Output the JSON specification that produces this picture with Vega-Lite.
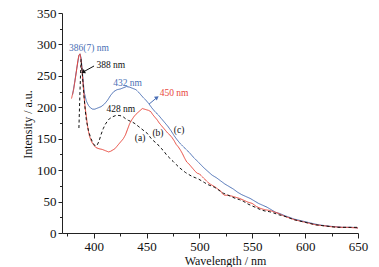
{
  "$schema": "https://vega.github.io/schema/vega-lite/v6.json",
  "width": 296,
  "height": 220,
  "autosize": "none",
  "padding": {"left": 62, "top": 13, "right": 21, "bottom": 34},
  "background": "white",
  "config": {
    "view": {"stroke": null},
    "font": "'Liberation Serif', 'Times New Roman', serif",
    "axis": {
      "grid": false,
      "domainColor": "#222",
      "tickColor": "#222",
      "labelColor": "#111",
      "titleColor": "#111",
      "labelFont": "'Liberation Serif', 'Times New Roman', serif",
      "titleFont": "'Liberation Serif', 'Times New Roman', serif",
      "labelFontSize": 13,
      "titleFontSize": 12,
      "titleFontWeight": "normal",
      "labelFlush": false,
      "labelOverlap": false,
      "domainWidth": 1,
      "tickWidth": 1
    }
  },
  "datasets": {
    "spectra": [
      {"wl":380,"v":220,"series":"c"},{"wl":382,"v":240,"series":"c"},{"wl":384,"v":262,"series":"c"},{"wl":386,"v":282,"series":"c"},{"wl":387,"v":285,"series":"c"},{"wl":388,"v":279,"series":"c"},{"wl":389,"v":262,"series":"c"},{"wl":390,"v":242,"series":"c"},{"wl":391,"v":224,"series":"c"},{"wl":393,"v":210,"series":"c"},{"wl":395,"v":203,"series":"c"},{"wl":397,"v":199,"series":"c"},{"wl":399,"v":197,"series":"c"},{"wl":401,"v":197,"series":"c"},{"wl":404,"v":199,"series":"c"},{"wl":407,"v":201,"series":"c"},{"wl":410,"v":205,"series":"c"},{"wl":413,"v":211,"series":"c"},{"wl":416,"v":219,"series":"c"},{"wl":419,"v":225,"series":"c"},{"wl":422,"v":228,"series":"c"},{"wl":425,"v":229,"series":"c"},{"wl":428,"v":231,"series":"c"},{"wl":431,"v":233,"series":"c"},{"wl":434,"v":232,"series":"c"},{"wl":437,"v":230,"series":"c"},{"wl":440,"v":228,"series":"c"},{"wl":443,"v":223,"series":"c"},{"wl":446,"v":217,"series":"c"},{"wl":449,"v":212,"series":"c"},{"wl":452,"v":206,"series":"c"},{"wl":455,"v":199,"series":"c"},{"wl":458,"v":193,"series":"c"},{"wl":461,"v":188,"series":"c"},{"wl":464,"v":182,"series":"c"},{"wl":467,"v":176,"series":"c"},{"wl":470,"v":170,"series":"c"},{"wl":473,"v":163,"series":"c"},{"wl":476,"v":155,"series":"c"},{"wl":479,"v":148,"series":"c"},{"wl":482,"v":142,"series":"c"},{"wl":485,"v":137,"series":"c"},{"wl":488,"v":132,"series":"c"},{"wl":491,"v":127,"series":"c"},{"wl":494,"v":121,"series":"c"},{"wl":497,"v":116,"series":"c"},{"wl":500,"v":111,"series":"c"},{"wl":504,"v":104,"series":"c"},{"wl":508,"v":98,"series":"c"},{"wl":512,"v":92,"series":"c"},{"wl":516,"v":88,"series":"c"},{"wl":520,"v":83,"series":"c"},{"wl":524,"v":78,"series":"c"},{"wl":528,"v":74,"series":"c"},{"wl":532,"v":70,"series":"c"},{"wl":536,"v":65,"series":"c"},{"wl":540,"v":61,"series":"c"},{"wl":544,"v":58,"series":"c"},{"wl":548,"v":55,"series":"c"},{"wl":552,"v":51,"series":"c"},{"wl":556,"v":47,"series":"c"},{"wl":560,"v":44,"series":"c"},{"wl":564,"v":41,"series":"c"},{"wl":568,"v":37,"series":"c"},{"wl":572,"v":33,"series":"c"},{"wl":576,"v":31,"series":"c"},{"wl":580,"v":28,"series":"c"},{"wl":585,"v":25,"series":"c"},{"wl":590,"v":22,"series":"c"},{"wl":595,"v":20,"series":"c"},{"wl":600,"v":18,"series":"c"},{"wl":605,"v":16,"series":"c"},{"wl":610,"v":14,"series":"c"},{"wl":615,"v":12.5,"series":"c"},{"wl":620,"v":11.5,"series":"c"},{"wl":625,"v":10.5,"series":"c"},{"wl":630,"v":10,"series":"c"},{"wl":635,"v":9,"series":"c"},{"wl":640,"v":9,"series":"c"},{"wl":645,"v":9,"series":"c"},{"wl":650,"v":8,"series":"c"},
      {"wl":379,"v":214,"series":"b"},{"wl":381,"v":228,"series":"b"},{"wl":383,"v":250,"series":"b"},{"wl":385,"v":274,"series":"b"},{"wl":386,"v":283,"series":"b"},{"wl":387,"v":285,"series":"b"},{"wl":388,"v":276,"series":"b"},{"wl":389,"v":258,"series":"b"},{"wl":390,"v":236,"series":"b"},{"wl":391,"v":215,"series":"b"},{"wl":392,"v":198,"series":"b"},{"wl":393,"v":186,"series":"b"},{"wl":394,"v":172,"series":"b"},{"wl":395,"v":162,"series":"b"},{"wl":396,"v":154,"series":"b"},{"wl":398,"v":145,"series":"b"},{"wl":400,"v":140,"series":"b"},{"wl":402,"v":136,"series":"b"},{"wl":405,"v":134,"series":"b"},{"wl":408,"v":133,"series":"b"},{"wl":411,"v":131,"series":"b"},{"wl":414,"v":129,"series":"b"},{"wl":416,"v":130,"series":"b"},{"wl":418,"v":132,"series":"b"},{"wl":420,"v":134,"series":"b"},{"wl":422,"v":138,"series":"b"},{"wl":424,"v":142,"series":"b"},{"wl":426,"v":146,"series":"b"},{"wl":428,"v":150,"series":"b"},{"wl":430,"v":156,"series":"b"},{"wl":432,"v":165,"series":"b"},{"wl":434,"v":174,"series":"b"},{"wl":436,"v":180,"series":"b"},{"wl":438,"v":185,"series":"b"},{"wl":440,"v":189,"series":"b"},{"wl":442,"v":192,"series":"b"},{"wl":444,"v":195,"series":"b"},{"wl":446,"v":198,"series":"b"},{"wl":448,"v":197,"series":"b"},{"wl":450,"v":196,"series":"b"},{"wl":452,"v":195,"series":"b"},{"wl":454,"v":193,"series":"b"},{"wl":456,"v":188,"series":"b"},{"wl":458,"v":184,"series":"b"},{"wl":460,"v":180,"series":"b"},{"wl":462,"v":175,"series":"b"},{"wl":464,"v":171,"series":"b"},{"wl":466,"v":167,"series":"b"},{"wl":468,"v":163,"series":"b"},{"wl":470,"v":159,"series":"b"},{"wl":472,"v":156,"series":"b"},{"wl":474,"v":152,"series":"b"},{"wl":476,"v":147,"series":"b"},{"wl":478,"v":141,"series":"b"},{"wl":480,"v":137,"series":"b"},{"wl":482,"v":132,"series":"b"},{"wl":484,"v":126,"series":"b"},{"wl":486,"v":119,"series":"b"},{"wl":488,"v":113,"series":"b"},{"wl":490,"v":110,"series":"b"},{"wl":492,"v":106,"series":"b"},{"wl":494,"v":102,"series":"b"},{"wl":496,"v":98,"series":"b"},{"wl":498,"v":95,"series":"b"},{"wl":500,"v":94,"series":"b"},{"wl":503,"v":89,"series":"b"},{"wl":506,"v":84,"series":"b"},{"wl":509,"v":79,"series":"b"},{"wl":512,"v":76,"series":"b"},{"wl":515,"v":73,"series":"b"},{"wl":518,"v":69,"series":"b"},{"wl":520,"v":67,"series":"b"},{"wl":522,"v":62,"series":"b"},{"wl":524,"v":60,"series":"b"},{"wl":527,"v":60,"series":"b"},{"wl":530,"v":59,"series":"b"},{"wl":534,"v":57,"series":"b"},{"wl":538,"v":55,"series":"b"},{"wl":542,"v":52,"series":"b"},{"wl":546,"v":49,"series":"b"},{"wl":550,"v":47,"series":"b"},{"wl":554,"v":42,"series":"b"},{"wl":558,"v":39,"series":"b"},{"wl":562,"v":37,"series":"b"},{"wl":566,"v":36,"series":"b"},{"wl":570,"v":34,"series":"b"},{"wl":575,"v":31,"series":"b"},{"wl":580,"v":27,"series":"b"},{"wl":585,"v":24,"series":"b"},{"wl":590,"v":21,"series":"b"},{"wl":595,"v":19,"series":"b"},{"wl":600,"v":17,"series":"b"},{"wl":605,"v":15,"series":"b"},{"wl":610,"v":13,"series":"b"},{"wl":615,"v":12,"series":"b"},{"wl":620,"v":11,"series":"b"},{"wl":625,"v":10,"series":"b"},{"wl":630,"v":9.5,"series":"b"},{"wl":635,"v":9,"series":"b"},{"wl":640,"v":9,"series":"b"},{"wl":645,"v":8.5,"series":"b"},{"wl":650,"v":8,"series":"b"},
      {"wl":386,"v":167,"series":"a"},{"wl":387,"v":225,"series":"a"},{"wl":388,"v":276,"series":"a"},{"wl":389,"v":258,"series":"a"},{"wl":390,"v":236,"series":"a"},{"wl":391,"v":214,"series":"a"},{"wl":392,"v":195,"series":"a"},{"wl":393,"v":180,"series":"a"},{"wl":395,"v":163,"series":"a"},{"wl":397,"v":152,"series":"a"},{"wl":399,"v":144,"series":"a"},{"wl":401,"v":139,"series":"a"},{"wl":403,"v":139,"series":"a"},{"wl":405,"v":146,"series":"a"},{"wl":407,"v":157,"series":"a"},{"wl":409,"v":166,"series":"a"},{"wl":411,"v":173,"series":"a"},{"wl":413,"v":178,"series":"a"},{"wl":415,"v":182,"series":"a"},{"wl":418,"v":185,"series":"a"},{"wl":421,"v":187,"series":"a"},{"wl":424,"v":187,"series":"a"},{"wl":427,"v":186,"series":"a"},{"wl":430,"v":182,"series":"a"},{"wl":433,"v":179,"series":"a"},{"wl":436,"v":177,"series":"a"},{"wl":439,"v":174,"series":"a"},{"wl":442,"v":170,"series":"a"},{"wl":445,"v":166,"series":"a"},{"wl":448,"v":162,"series":"a"},{"wl":451,"v":158,"series":"a"},{"wl":454,"v":151,"series":"a"},{"wl":457,"v":146,"series":"a"},{"wl":460,"v":142,"series":"a"},{"wl":463,"v":136,"series":"a"},{"wl":466,"v":131,"series":"a"},{"wl":469,"v":124,"series":"a"},{"wl":472,"v":119,"series":"a"},{"wl":475,"v":114,"series":"a"},{"wl":478,"v":109,"series":"a"},{"wl":481,"v":104,"series":"a"},{"wl":484,"v":100,"series":"a"},{"wl":487,"v":96,"series":"a"},{"wl":490,"v":93,"series":"a"},{"wl":493,"v":90,"series":"a"},{"wl":496,"v":88,"series":"a"},{"wl":499,"v":86,"series":"a"},{"wl":502,"v":83,"series":"a"},{"wl":505,"v":80,"series":"a"},{"wl":508,"v":77,"series":"a"},{"wl":511,"v":75,"series":"a"},{"wl":514,"v":73,"series":"a"},{"wl":517,"v":70,"series":"a"},{"wl":520,"v":66,"series":"a"},{"wl":523,"v":63,"series":"a"},{"wl":526,"v":61,"series":"a"},{"wl":530,"v":58,"series":"a"},{"wl":534,"v":55,"series":"a"},{"wl":538,"v":53,"series":"a"},{"wl":542,"v":50,"series":"a"},{"wl":546,"v":46,"series":"a"},{"wl":550,"v":43,"series":"a"},{"wl":554,"v":40,"series":"a"},{"wl":558,"v":37,"series":"a"},{"wl":562,"v":35,"series":"a"},{"wl":566,"v":34,"series":"a"},{"wl":570,"v":32,"series":"a"},{"wl":575,"v":29,"series":"a"},{"wl":580,"v":27,"series":"a"},{"wl":585,"v":24,"series":"a"},{"wl":590,"v":21,"series":"a"},{"wl":595,"v":19,"series":"a"},{"wl":600,"v":17,"series":"a"},{"wl":605,"v":15,"series":"a"},{"wl":610,"v":13,"series":"a"},{"wl":615,"v":12,"series":"a"},{"wl":620,"v":11,"series":"a"},{"wl":625,"v":10,"series":"a"},{"wl":630,"v":9,"series":"a"},{"wl":635,"v":9,"series":"a"},{"wl":640,"v":9,"series":"a"},{"wl":645,"v":9,"series":"a"},{"wl":650,"v":9,"series":"a"}
    ],
    "peaks": [
      {"wl":395.5,"v":294,"text":"386(7) nm","series":"c"},
      {"wl":416.2,"v":267,"text":"388 nm","series":"a"},
      {"wl":432,"v":239,"text":"432 nm","series":"c"},
      {"wl":476,"v":222,"text":"450 nm","series":"b"},
      {"wl":425.6,"v":197,"text":"428 nm","series":"a"}
    ],
    "tags": [
      {"wl":443.8,"v":150.5,"text":"(a)"},
      {"wl":460.8,"v":159.5,"text":"(b)"},
      {"wl":480.7,"v":164,"text":"(c)"}
    ],
    "arrows": [
      {"wl1":389.9,"v1":256,"wl2":400.3,"v2":265.7,"series":"a"},
      {"wl1":452.3,"v1":205,"wl2":459.9,"v2":215.6,"series":"c"}
    ]
  },
  "layer": [
    {
      "data": {"name": "spectra"},
      "mark": {"type": "line", "strokeWidth": 1, "interpolate": "linear"},
      "encoding": {
        "x": {"field": "wl", "type": "quantitative",
              "scale": {"domain": [370, 650], "nice": false, "zero": false},
              "axis": {"orient": "bottom", "values": [400, 450, 500, 550, 600, 650], "title": "Wavelength / nm",
                       "tickSize": 5, "labelPadding": 2, "titleX": 163, "titleY": 31, "titleBaseline": "alphabetic", "titleAlign": "center"}},
        "y": {"field": "v", "type": "quantitative",
              "scale": {"domain": [0, 350], "nice": false, "zero": true},
              "axis": {"orient": "left", "values": [0, 50, 100, 150, 200, 250, 300, 350], "title": "Intensity / a.u.",
                       "tickSize": 4, "labelPadding": 2, "titleX": -35, "titleY": 111, "titleAngle": -90, "titleBaseline": "middle", "titleAlign": "center"}},
        "color": {"field": "series", "type": "nominal",
                  "scale": {"domain": ["a", "b", "c"], "range": ["#111111", "#e8473c", "#4a6fb5"]}, "legend": null},
        "strokeDash": {"field": "series", "type": "nominal",
                       "scale": {"domain": ["a", "b", "c"], "range": [[3, 2.5], [1, 0], [1, 0]]}, "legend": null},
        "order": {"field": "wl", "type": "quantitative"}
      }
    },
    {
      "data": {"name": "spectra"},
      "mark": {"type": "line", "opacity": 0},
      "encoding": {
        "x": {"field": "wl", "type": "quantitative",
              "axis": {"orient": "bottom", "values": [375, 425, 475, 525, 575, 625], "labels": false, "domain": false, "tickSize": 3, "title": null}},
        "y": {"field": "v", "type": "quantitative",
              "axis": {"orient": "left", "values": [25, 75, 125, 175, 225, 275, 325], "labels": false, "domain": false, "tickSize": 2.5, "title": null}},
        "detail": {"field": "series"}
      }
    },
    {
      "data": {"name": "arrows"},
      "mark": {"type": "rule", "strokeWidth": 1},
      "encoding": {
        "x": {"field": "wl1", "type": "quantitative", "axis": null},
        "y": {"field": "v1", "type": "quantitative", "axis": null},
        "x2": {"field": "wl2"},
        "y2": {"field": "v2"},
        "color": {"field": "series", "type": "nominal", "legend": null}
      }
    },
    {
      "data": {"name": "arrows"},
      "transform": [{"filter": "datum.series === 'a'"}],
      "mark": {"type": "point", "shape": "triangle-up", "filled": true, "size": 22, "angle": 242, "opacity": 1},
      "encoding": {
        "x": {"field": "wl1", "type": "quantitative", "axis": null},
        "y": {"field": "v1", "type": "quantitative", "axis": null},
        "color": {"field": "series", "type": "nominal", "legend": null}
      }
    },
    {
      "data": {"name": "arrows"},
      "transform": [{"filter": "datum.series === 'c'"}],
      "mark": {"type": "point", "shape": "triangle-up", "filled": true, "size": 22, "angle": 53, "opacity": 1},
      "encoding": {
        "x": {"field": "wl2", "type": "quantitative", "axis": null},
        "y": {"field": "v2", "type": "quantitative", "axis": null},
        "color": {"field": "series", "type": "nominal", "legend": null}
      }
    },
    {
      "data": {"name": "peaks"},
      "mark": {"type": "text", "font": "'Liberation Serif', 'Times New Roman', serif", "fontSize": 9.5, "align": "center", "baseline": "middle"},
      "encoding": {
        "x": {"field": "wl", "type": "quantitative", "axis": null},
        "y": {"field": "v", "type": "quantitative", "axis": null},
        "text": {"field": "text"},
        "color": {"field": "series", "type": "nominal", "legend": null}
      }
    },
    {
      "data": {"name": "tags"},
      "mark": {"type": "text", "font": "'Liberation Serif', 'Times New Roman', serif", "fontSize": 9.5, "align": "center", "baseline": "middle", "color": "#111111"},
      "encoding": {
        "x": {"field": "wl", "type": "quantitative", "axis": null},
        "y": {"field": "v", "type": "quantitative", "axis": null},
        "text": {"field": "text"}
      }
    }
  ],
  "resolve": {"axis": {"x": "independent", "y": "independent"}}
}
